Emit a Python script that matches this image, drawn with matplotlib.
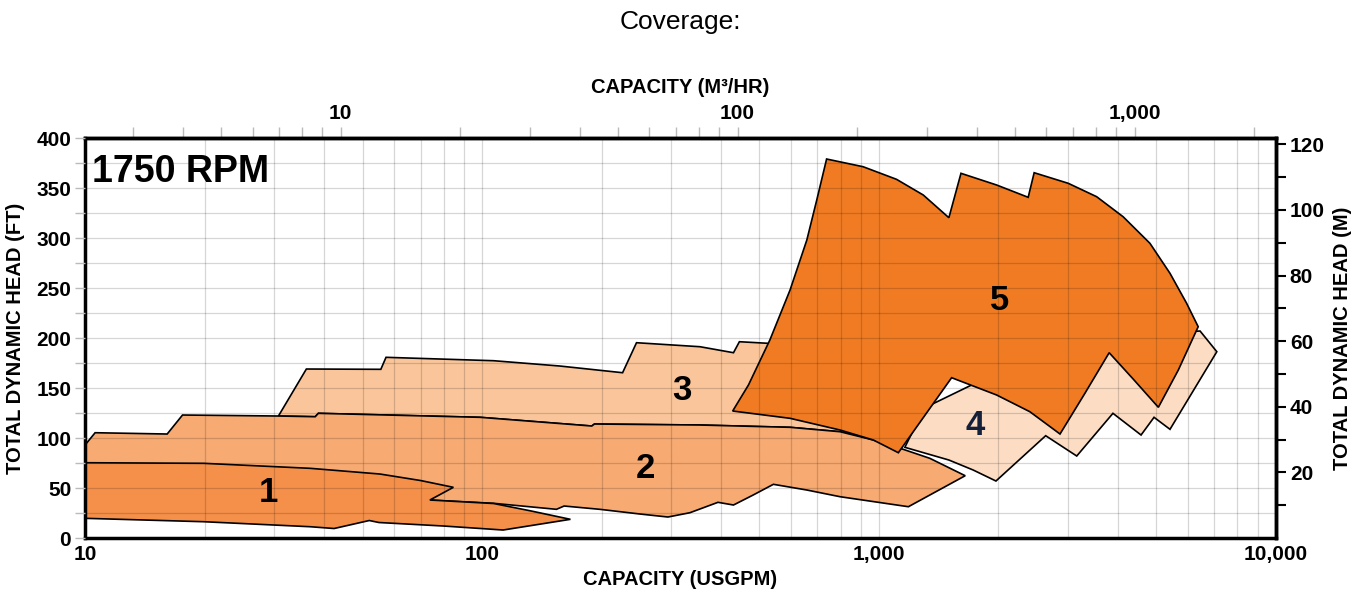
import matplotlib
matplotlib.use("Agg")
import matplotlib.pyplot as plt
from matplotlib.ticker import FixedLocator, FuncFormatter, MultipleLocator, NullFormatter

# ---------------- data (USGPM, feet) ----------------
r1_gpm = [10, 19.9, 36.9, 55.3, 70, 84.7, 73.9, 107, 132, 167, 113, 80, 55, 52, 42.4, 36.9, 19.9, 10]
r1_ft = [75.3, 74.7, 69.7, 64, 57.5, 50.7, 38, 34.5, 27.3, 18.7, 8, 12, 15.5, 17.5, 9.5, 11.3, 16.3, 19.7]

r2_top_gpm = [10, 10.6, 16.1, 17.6, 30.7, 38, 38.7, 98.9, 189, 192, 354, 597, 798, 968, 1151, 1343, 1649]
r2_top_ft = [93, 105.3, 104, 123, 122, 121.3, 124.7, 120.7, 112, 114, 113, 110.7, 106.3, 98, 88.7, 79.7, 62.3]
r2_bot_gpm = [1186, 798, 658, 542, 482, 430, 393, 334, 294, 250, 198, 161, 154, 107, 73.9, 40, 10]
r2_bot_ft = [31.3, 41.3, 48, 53.7, 43, 33, 35.7, 25.3, 21, 24, 28.7, 32, 28.7, 34.7, 38, 50, 55]

r3_gpm = [30.7, 36.1, 55.6, 57.3, 107, 157, 226, 245, 354, 430, 445, 526, 750, 968]
r3_ft = [122, 169, 168.7, 180.7, 177.3, 172, 165.3, 195.3, 191.3, 185.3, 196.3, 194.7, 160, 98]

r4_gpm = [1162, 1500, 1727, 1971, 2630, 3149, 3885, 4573, 4931, 5409, 7097, 6440, 3000, 1300]
r4_ft = [90.7, 78, 68, 57, 102.3, 82, 124.7, 103, 120.7, 108.7, 186.3, 207, 200, 130]

r5_gpm = [428, 469, 531, 597, 658, 697, 738, 912, 1107, 1293, 1500, 1609, 1979, 2376,
          2460, 2998, 3535, 4121, 4815, 5409, 5957, 6370, 5677, 5056, 4375, 3801, 3302, 2858,
          2399, 1979, 1524, 1119, 968, 798, 597]
r5_ft = [127, 153, 198, 248, 298, 338, 379, 371.3, 358.7, 343, 320.3, 364.7, 353, 340.7,
         365.3, 354.7, 341.3, 321.3, 294.7, 264.7, 234.7, 211.3, 168, 130.7, 158.7, 185.3, 144.7, 104,
         126.3, 143, 160.3, 85.3, 98, 108, 119.7]

region_labels = ["1", "2", "3", "4", "5"]
label_gpm = [28.9, 258, 319, 1745, 2018]
label_ft = [46, 70, 148, 113, 238]
label_colors = ["black", "black", "black", "#15203a", "black"]

colors = {"1": "#F4904A", "2": "#F7AA72", "3": "#FAC59A", "4": "#FCDDC4", "5": "#F07B23"}

GPM_PER_M3H = 4.403
FT_PER_M = 3.28084

FONT = ["Liberation Sans", "DejaVu Sans"]
plt.rcParams["font.family"] = FONT

fig = plt.figure(figsize=(13.61, 5.99), dpi=100)
ax = fig.add_axes([0.0625, 0.1018, 0.875, 0.6678])
ax.set_xscale("log")
ax.set_xlim(10, 10000)
ax.set_ylim(0, 400)

edge = dict(edgecolor="black", linewidth=1.2, joinstyle="miter")
# region 3 (bottom follows region 2 top)
r3x = r3_gpm + [g for g in reversed(r2_top_gpm) if 30.7 <= g <= 968]
r3y = r3_ft + [f for g, f in zip(reversed(r2_top_gpm), reversed(r2_top_ft)) if 30.7 <= g <= 968]
ax.fill(r3x, r3y, facecolor=colors["3"], zorder=1, **edge)
ax.fill(r2_top_gpm + r2_bot_gpm, r2_top_ft + r2_bot_ft, facecolor=colors["2"], zorder=1.1, **edge)
ax.fill(r1_gpm, r1_ft, facecolor=colors["1"], zorder=1.2, **edge)
ax.fill(r4_gpm, r4_ft, facecolor=colors["4"], zorder=1.3, **edge)
ax.fill(r5_gpm, r5_ft, facecolor=colors["5"], zorder=1.4, **edge)

for t, x, y, c in zip(region_labels, label_gpm, label_ft, label_colors):
    ax.text(x, y, t, fontsize=25, fontweight="bold", color=c, ha="center", va="center", zorder=4)

# grid on top
ax.set_axisbelow(False)
ax.yaxis.set_major_locator(MultipleLocator(50))
ax.yaxis.set_minor_locator(MultipleLocator(25))
ax.grid(which="both", color="black", alpha=0.16, linewidth=0.9)

for s in ax.spines.values():
    s.set_linewidth(2.5)

ax.xaxis.set_major_locator(FixedLocator([10, 100, 1000, 10000]))
ax.xaxis.set_major_formatter(FuncFormatter(lambda v, p: f"{int(v):,}"))
ax.xaxis.set_minor_formatter(NullFormatter())
ax.tick_params(axis="x", which="both", length=0, labelsize=15, pad=5)
ax.tick_params(axis="y", which="both", length=7, color="#bbbbbb", width=1, labelsize=15, pad=3)
for lab in ax.get_xticklabels() + ax.get_yticklabels():
    lab.set_fontweight("bold")

ax.set_xlabel("CAPACITY (USGPM)", fontsize=14.5, fontweight="bold", labelpad=4)
ax.set_ylabel("TOTAL DYNAMIC HEAD (FT)", fontsize=14.5, fontweight="bold", labelpad=8)

# top axis m3/hr
top = ax.secondary_xaxis("top", functions=(lambda q: q / GPM_PER_M3H, lambda m: m * GPM_PER_M3H))
top.xaxis.set_major_locator(FixedLocator([10, 100, 1000]))
top.xaxis.set_major_formatter(FuncFormatter(lambda v, p: f"{int(round(v)):,}"))
minors = [m * 10 ** k for k in range(0, 4) for m in range(2, 10)]
top.xaxis.set_minor_locator(FixedLocator([m for m in minors if 2.3 < m < 2270]))
top.xaxis.set_minor_formatter(NullFormatter())
top.tick_params(which="both", length=8, color="#bbbbbb", width=1, labelsize=15, pad=3)
for lab in top.get_xticklabels():
    lab.set_fontweight("bold")
top.set_xlabel("CAPACITY (M³/HR)", fontsize=14.5, fontweight="bold", labelpad=8)
top.spines["top"].set_linewidth(2.5)

# right axis meters
right = ax.secondary_yaxis("right", functions=(lambda f: f / FT_PER_M, lambda m: m * FT_PER_M))
right.yaxis.set_major_locator(FixedLocator([20, 40, 60, 80, 100, 120]))
right.yaxis.set_minor_locator(FixedLocator([10, 30, 50, 70, 90, 110]))
right.yaxis.set_major_formatter(FuncFormatter(lambda v, p: f"{int(round(v))}"))
right.tick_params(which="both", length=7, color="black", width=1.5, labelsize=15, pad=3)
for lab in right.get_yticklabels():
    lab.set_fontweight("bold")
right.set_ylabel("TOTAL DYNAMIC HEAD (M)", fontsize=14.5, fontweight="bold", labelpad=6)
right.spines["right"].set_linewidth(2.5)

ax.text(0.006, 0.96, "1750 RPM", transform=ax.transAxes, fontsize=27, fontweight="bold",
        ha="left", va="top", zorder=5)

fig.text(0.5, 0.963, "Coverage:", ha="center", va="center", fontsize=19)

fig.savefig("out.png", dpi=100)
